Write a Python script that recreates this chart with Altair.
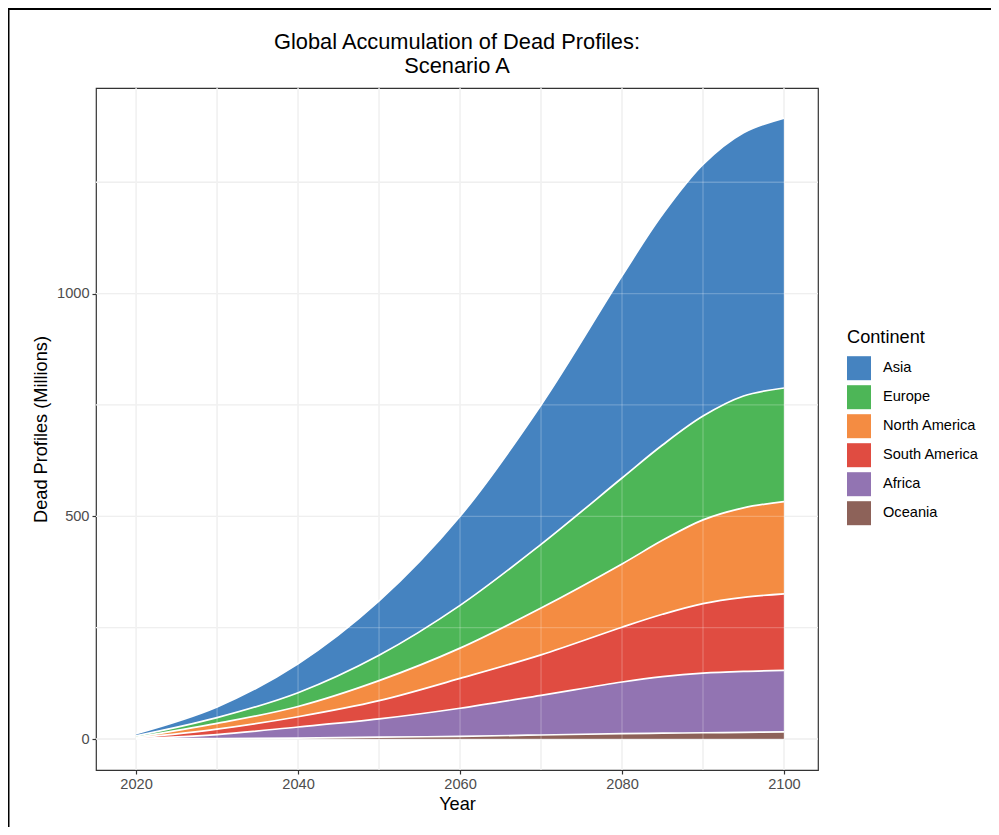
import altair as alt
import pandas as pd

# ---- data ----
years = [2020, 2030, 2040, 2050, 2060, 2070, 2080, 2085, 2090, 2095, 2100]
continents = ["Asia", "Europe", "North America", "South America", "Africa", "Oceania"]
colors = ["#4583C0", "#4DB657", "#F48C42", "#E04C41", "#9274B2", "#8D6259"]

asia = [5, 24, 65, 122, 200, 313, 454, 518, 565, 591, 606]
europe = [3, 13, 31, 57, 96, 143, 193, 214, 233, 251, 255]
north_america = [2, 13, 23, 45, 68, 105, 142, 166, 188, 201, 207]
south_america = [1, 12, 23, 41, 67, 91, 123, 140, 156, 166, 172]
africa = [0.8, 9, 25, 41, 63, 89, 116, 127, 134, 137, 138]
oceania = [0.2, 1, 2, 4, 6, 9, 12, 13, 14, 15, 16]

x_grid = [2020, 2030, 2040, 2050, 2060, 2070, 2080, 2090, 2100]
y_grid = [0, 250, 500, 750, 1000, 1250]
x_ticks = [2020, 2040, 2060, 2080, 2100]
y_ticks = [0, 500, 1000]

series = [asia, europe, north_america, south_america, africa, oceania]
rows = []
for ci, (name, vals) in enumerate(zip(continents, series)):
    for yr, v in zip(years, vals):
        rows.append({"Year": yr, "Continent": name, "Value": v,
                     "ord": len(continents) - ci})
df = pd.DataFrame(rows)

W, H = 722, 682
PAD_L, PAD_T = 88, 80
xs = alt.Scale(domain=[2015.05, 2104.2], nice=False, zero=False)
ys = alt.Scale(domain=[-69.6, 1461.6], nice=False, zero=False)

xaxis = alt.Axis(values=x_ticks, grid=False, domain=False, format="d",
                 tickColor="#333333", tickSize=4, tickWidth=1.2,
                 labelColor="#4D4D4D", labelFontSize=14.6, labelPadding=2,
                 title="Year", titleFontSize=18.2, titleFontWeight="normal",
                 titleColor="black", titlePadding=5)
yaxis = alt.Axis(values=y_ticks, grid=False, domain=False, format="d",
                 tickColor="#333333", tickSize=4, tickWidth=1.2,
                 labelColor="#4D4D4D", labelFontSize=14.6, labelPadding=3,
                 title="Dead Profiles (Millions)", titleFontSize=18.2,
                 titleFontWeight="normal", titleColor="black", titlePadding=6)

base = alt.Chart(df).transform_stack(
    stack="Value", groupby=["Year"], as_=["y0", "y1"],
    sort=[alt.SortField("ord", order="ascending")]
)

areas = base.mark_area(interpolate="catmull-rom").encode(
    x=alt.X("Year:Q", scale=xs, axis=xaxis),
    y=alt.Y("y1:Q", scale=ys, axis=yaxis),
    y2="y0:Q",
    color=alt.Color("Continent:N",
                    scale=alt.Scale(domain=continents, range=colors),
                    legend=alt.Legend(title="Continent", orient="none",
                                      legendX=751, legendY=241,
                                      symbolType="square", symbolSize=576,
                                      symbolStrokeWidth=0, symbolOpacity=1,
                                      labelFontSize=14.6, labelColor="black",
                                      titleFontSize=18.2, titleFontWeight="normal",
                                      titleColor="black", titlePadding=9,
                                      rowPadding=5, labelOffset=12)),
)

lines = base.mark_line(interpolate="catmull-rom", color="white", strokeWidth=1.7).encode(
    x=alt.X("Year:Q", scale=xs, axis=xaxis),
    y=alt.Y("y1:Q", scale=ys, axis=yaxis),
    detail="Continent:N",
)

gx = pd.DataFrame({"Year": x_grid})
gy = pd.DataFrame({"y1": y_grid})

grid_under_x = alt.Chart(gx).mark_rule(color="#EBEBEB", strokeWidth=1.3).encode(
    x=alt.X("Year:Q", scale=xs, axis=xaxis))
grid_under_y = alt.Chart(gy).mark_rule(color="#EBEBEB", strokeWidth=1.3).encode(
    y=alt.Y("y1:Q", scale=ys, axis=yaxis))
grid_over_x = alt.Chart(gx).mark_rule(color="white", opacity=0.22, strokeWidth=1.3).encode(
    x=alt.X("Year:Q", scale=xs, axis=xaxis))
grid_over_y = alt.Chart(gy).mark_rule(color="white", opacity=0.22, strokeWidth=1.3).encode(
    y=alt.Y("y1:Q", scale=ys, axis=yaxis))

frame = alt.Chart(pd.DataFrame({"a": [0]})).mark_rect(
    fillOpacity=0, stroke="black", strokeWidth=2).encode(
    x=alt.value(0.5 - PAD_L), y=alt.value(1 - PAD_T),
    x2=alt.value(1200), y2=alt.value(1000))

chart = alt.layer(
    grid_under_x, grid_under_y, areas, lines, grid_over_x, grid_over_y, frame
).properties(
    width=W, height=H,
    title=alt.TitleParams(
        text=["Global Accumulation of Dead Profiles:", "Scenario A"],
        fontSize=21.8, fontWeight="normal", color="black", anchor="middle",
        offset=0, dy=70, lineHeight=24),
    autosize=alt.AutoSizeParams(type="none"),
    padding={"left": PAD_L, "top": PAD_T, "right": 983 - PAD_L - W,
             "bottom": 819 - PAD_T - H},
).configure(
    font="Liberation Sans",
).configure_view(
    stroke="#333333", strokeWidth=1.2,
)

chart.save("out.html", embed_options={"renderer": "svg", "actions": False})
